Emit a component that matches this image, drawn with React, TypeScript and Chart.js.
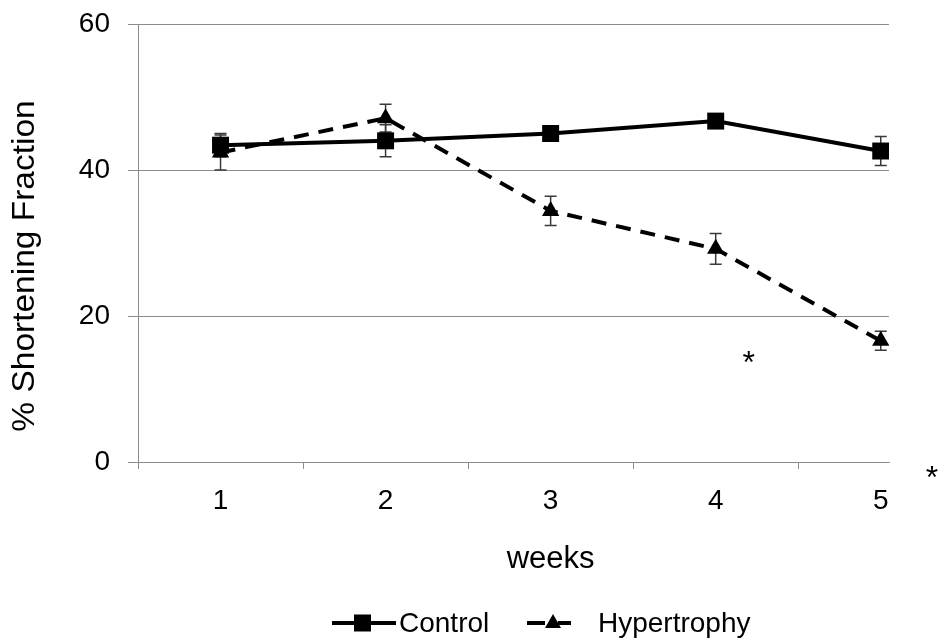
import { useEffect, useRef } from "react";
import { Chart, registerables } from "chart.js";

Chart.register(...registerables);

// ---- data ----
const weeks = [1, 2, 3, 4, 5];
const xTickLabels = ["1", "2", "3", "4", "5"];
const controlMean = [43.4, 44.0, 45.0, 46.7, 42.6];
const controlErr = [1.6, 2.2, 0.6, 0.8, 2.0];
const hyperMean = [42.4, 47.1, 34.4, 29.2, 16.6];
const hyperErr = [2.4, 1.9, 2.0, 2.1, 1.3];
const yTicks = [0, 20, 40, 60];
const starX = [4.2, 5.31];
const starY = [14.8, -1.0];
const seriesNames = ["Control", "Hypertrophy"];
const xTitle = "weeks";
const yTitle = "% Shortening Fraction";

const FONT = "'Liberation Sans', Arial, sans-serif";
const GRID = "#8c8c8c";

const errorBarPlugin = {
  id: "errorBars",
  beforeDatasetsDraw(chart: any) {
    const ctx = chart.ctx;
    const ys = chart.scales.y;
    const errs = [controlErr, hyperErr];
    const means = [controlMean, hyperMean];
    ctx.save();
    ctx.strokeStyle = "#3a3a3a";
    ctx.lineWidth = 1.5;
    chart.data.datasets.forEach((_: any, i: number) => {
      const meta = chart.getDatasetMeta(i);
      meta.data.forEach((pt: any, j: number) => {
        const top = ys.getPixelForValue(means[i][j] + errs[i][j]);
        const bot = ys.getPixelForValue(means[i][j] - errs[i][j]);
        ctx.beginPath();
        ctx.moveTo(pt.x, top);
        ctx.lineTo(pt.x, bot);
        ctx.moveTo(pt.x - 6, top);
        ctx.lineTo(pt.x + 6, top);
        ctx.moveTo(pt.x - 6, bot);
        ctx.lineTo(pt.x + 6, bot);
        ctx.stroke();
      });
    });
    ctx.restore();
  },
};

const textPlugin = {
  id: "texts",
  afterDraw(chart: any) {
    const ctx = chart.ctx;
    const xs = chart.scales.x;
    const ys = chart.scales.y;
    const area = chart.chartArea;
    ctx.save();
    ctx.fillStyle = "#000";
    // y title
    ctx.save();
    ctx.translate(25, (area.top + area.bottom) / 2 + 23);
    ctx.rotate(-Math.PI / 2);
    ctx.scale(1.08, 1);
    ctx.font = `31px ${FONT}`;
    ctx.textAlign = "center";
    ctx.textBaseline = "middle";
    ctx.fillText(yTitle, 0, 0);
    ctx.restore();
    // x title
    ctx.font = `31px ${FONT}`;
    ctx.textAlign = "center";
    ctx.textBaseline = "middle";
    ctx.fillText(xTitle, xs.getPixelForValue(3), area.bottom + 97);
    // asterisks
    ctx.font = `32px ${FONT}`;
    for (let i = 0; i < starX.length; i++) {
      const px = xs.getPixelForValue(starX[i]);
      const py = ys.getPixelForValue(starY[i]);
      ctx.textBaseline = "alphabetic";
      ctx.fillText("*", px, py + 32 * 0.58);
    }
    // legend
    const ly = 623;
    ctx.strokeStyle = "#000";
    ctx.lineWidth = 4;
    ctx.setLineDash([]);
    ctx.beginPath();
    ctx.moveTo(332, ly);
    ctx.lineTo(396, ly);
    ctx.stroke();
    ctx.fillRect(354, ly - 8.5, 17, 17);
    ctx.font = `28px ${FONT}`;
    ctx.textAlign = "left";
    ctx.textBaseline = "middle";
    ctx.fillText(seriesNames[0], 399, ly + 1);
    ctx.beginPath();
    ctx.moveTo(527, ly);
    ctx.lineTo(545, ly);
    ctx.moveTo(558, ly);
    ctx.lineTo(571, ly);
    ctx.stroke();
    ctx.beginPath();
    ctx.moveTo(553, ly - 9);
    ctx.lineTo(561, ly + 5);
    ctx.lineTo(545, ly + 5);
    ctx.closePath();
    ctx.fill();
    ctx.fillText(seriesNames[1], 598, ly + 1);
    ctx.restore();
  },
};

export default function App() {
  const canvasRef = useRef<HTMLCanvasElement | null>(null);

  useEffect(() => {
    if (!canvasRef.current) return;
    const chart = new Chart(canvasRef.current, {
      type: "line",
      data: {
        datasets: [
          {
            label: seriesNames[0],
            data: weeks.map((w, i) => ({ x: w, y: controlMean[i] })),
            borderColor: "#000",
            backgroundColor: "#000",
            borderWidth: 4,
            pointStyle: "rect",
            pointRadius: 12,
            pointBackgroundColor: "#000",
            pointBorderColor: "#000",
            pointBorderWidth: 0,
          },
          {
            label: seriesNames[1],
            data: weeks.map((w, i) => ({ x: w, y: hyperMean[i] })),
            borderColor: "#000",
            backgroundColor: "#000",
            borderWidth: 4,
            borderDash: [15, 10],
            pointStyle: "triangle",
            pointRadius: 10,
            pointBackgroundColor: "#000",
            pointBorderColor: "#000",
            pointBorderWidth: 0,
          },
        ],
      },
      options: {
        responsive: false,
        animation: false,
        events: [],
        layout: { padding: { left: 0, top: 24, right: 49, bottom: 0 } },
        plugins: {
          legend: { display: false },
          tooltip: { enabled: false },
        },
        scales: {
          x: {
            type: "linear",
            min: 0.5,
            max: 5.05,
            afterBuildTicks: (scale: any) => {
              const t: any[] = [];
              for (let v = 0.5; v <= 5.0001; v += 0.5) t.push({ value: v });
              scale.ticks = t;
            },
            afterFit: (scale: any) => {
              scale.height = 639 - 462;
              scale.paddingLeft = 0;
              scale.paddingRight = 0;
            },
            grid: {
              drawOnChartArea: false,
              drawTicks: true,
              tickLength: 7,
              color: (c: any) =>
                c.tick && Math.abs(c.tick.value % 1) > 0.01 ? GRID : "rgba(0,0,0,0)",
            },
            border: { display: true, color: GRID, width: 1 },
            ticks: {
              autoSkip: false,
              maxRotation: 0,
              padding: 18,
              color: "#000",
              font: { family: FONT, size: 28, lineHeight: 1 },
              callback: (v: any) => {
                const n = Number(v);
                return Math.abs(n - Math.round(n)) < 0.01 ? xTickLabels[Math.round(n) - 1] : "";
              },
            },
          },
          y: {
            type: "linear",
            min: 0,
            max: 60,
            afterBuildTicks: (scale: any) => {
              scale.ticks = yTicks.map((v) => ({ value: v }));
            },
            afterFit: (scale: any) => {
              scale.width = 138;
              scale.paddingTop = 0;
              scale.paddingBottom = 0;
            },
            grid: {
              color: GRID,
              lineWidth: 1,
              drawTicks: true,
              tickLength: 10,
            },
            border: { display: true, color: GRID, width: 1 },
            ticks: {
              padding: 18,
              color: "#000",
              font: { family: FONT, size: 28, lineHeight: 1 },
              callback: (v: any) => String(v),
            },
          },
        },
      },
      plugins: [errorBarPlugin, textPlugin],
    } as any);
    return () => chart.destroy();
  }, []);

  return (
    <div style={{ position: "absolute", left: 0, top: 0, width: 938, height: 639, background: "#fff" }}>
      <canvas ref={canvasRef} width={938} height={639} />
    </div>
  );
}
